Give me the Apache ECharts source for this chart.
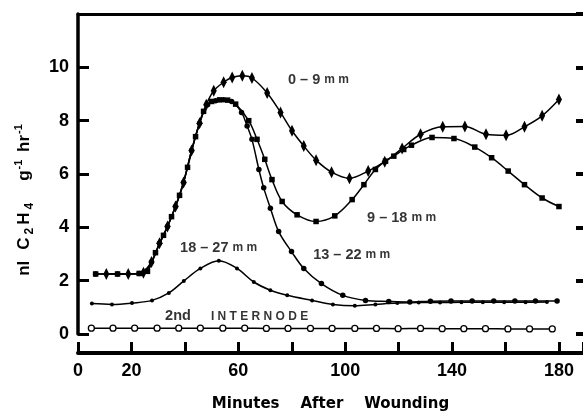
<!DOCTYPE html>
<html><head><meta charset="utf-8">
<script src="https://cdn.jsdelivr.net/npm/echarts@6/dist/echarts.min.js"></script>
<style>html,body{margin:0;padding:0;background:#fff}#c{width:583px;height:413px}</style>
</head><body><div id="c"></div>
<script>
// ---- data (minutes after wounding, nl C2H4 g-1 hr-1) ----
const xTickLabels = ['0','20','60','100','140','180'];
const yTickLabels = ['0','2','4','6','8','10'];

const s0_9_t = [10.6,18.8,24.5,27.5,30.5,33.5,36.5,39.5,42.5,45.5,48,50.8,54.5,57.7,61.5,65.1,70.8,75.8,80.1,84.5,89.1,94.9,101.6,108.6,114.8,121.3,128.2,136.5,144.8,152.7,160.2,167.1,173.7,180];
const s0_9_v = [2.25,2.25,2.3,2.7,3.4,4.03,4.78,5.68,6.88,7.9,8.6,9.12,9.44,9.62,9.68,9.6,9.04,8.31,7.62,7.05,6.52,6.07,5.84,6.11,6.46,6.96,7.49,7.77,7.78,7.49,7.45,7.77,8.18,8.79];

const s9_18_t = [6.6,14.8,22.9,26,29,32,35,38,41,44,47,50,53,56,59,63.9,67,69.9,72.6,76.4,82,89.1,96.1,102.6,107,111.3,115.1,118.2,121.9,124.8,132.5,140.7,148.5,154.8,161,167.1,173.7,180];
const s9_18_v = [2.25,2.25,2.27,2.35,3.05,3.7,4.4,5.2,6.25,7.4,8.35,8.72,8.78,8.77,8.62,8.0,7.3,6.55,5.79,4.97,4.47,4.22,4.43,5.04,5.6,6.17,6.48,6.67,6.92,7.08,7.37,7.33,7.01,6.61,6.11,5.6,5.1,4.78];

const s13_22_t = [6.6,14.8,22.9,27.5,30.5,33.5,36.5,39.5,42.5,45.5,48.5,51.5,54.5,57.5,61.2,63.3,65.1,67.7,69.5,72,75.1,79.9,84.5,91.1,99.1,107.6,116.3,124.2,131.9,139.6,147.5,155.6,163.5,171.2,179.3];
const s13_22_v = [2.25,2.25,2.27,2.7,3.4,4.03,4.78,5.68,6.88,7.9,8.6,8.75,8.78,8.72,8.31,7.8,7.3,6.17,5.48,4.72,3.84,3.09,2.46,1.89,1.45,1.26,1.22,1.2,1.23,1.24,1.24,1.24,1.24,1.24,1.24];

const s18_27_t = [5.2,12.7,20.2,27.7,34,39.6,45.8,52.7,59.5,65.8,72,78.3,87.6,95.4,103.6,111.3,119.5,127.5,135.5,143.5,151.5,159.5,167.5,175.5];
const s18_27_v = [1.14,1.11,1.16,1.26,1.54,1.99,2.46,2.75,2.46,1.95,1.64,1.45,1.26,1.11,1.06,1.11,1.16,1.18,1.18,1.19,1.19,1.19,1.19,1.2];

const sInt_t = [5,13.1,21.2,29.6,37.7,45.8,54.2,62.4,70.5,78.6,87,95.1,103.6,111.7,119.8,128.2,136.3,144.4,152.5,160.9,169,177.5];
const sInt_v = [0.22,0.22,0.22,0.22,0.22,0.22,0.22,0.22,0.21,0.21,0.21,0.21,0.21,0.21,0.2,0.21,0.2,0.2,0.2,0.19,0.19,0.19];

const seriesNames = ['0-9 mm','9-18 mm','13-22 mm','18-27 mm','2nd INTERNODE'];

// ---- build ----
const zip = (t, v) => t.map((x, i) => [x, v[i]]);
const FONT = 'Liberation Sans';
const lineBase = (name, t, v, symbol, size, extra) => Object.assign({
  name, type: 'line', data: zip(t, v), smooth: 0.35, symbol, symbolSize: size,
  lineStyle: { color: '#000', width: 1.5 },
  itemStyle: { color: '#000', borderColor: '#000', borderWidth: 0 },
  z: 3, silent: true
}, extra || {});

const lbl = (name, x, y, text) => ({
  name: name + ' label', type: 'scatter', symbolSize: 0, data: [[x, y]], silent: true, z: 5,
  label: {
    show: true, position: 'right', distance: 0, formatter: text,
    rich: {
      d: { fontFamily: FONT, fontWeight: 'bold', fontSize: 14.5, color: '#000' },
      m: { fontFamily: FONT, fontWeight: 'bold', fontSize: 12, color: '#000', padding: [0, 0, 0, 4] },
      c: { fontFamily: FONT, fontWeight: 'bold', fontSize: 12, color: '#000', padding: [0, 0, 0, 20] }
    }
  }
});

const B = { fontFamily: FONT, fontWeight: 'bold', color: '#000' };
const chart = echarts.init(document.getElementById('c'), null, { renderer: 'canvas' });
chart.setOption({
  animation: false,
  backgroundColor: '#fff',
  grid: { left: 78, top: 14, right: 0, bottom: 79, containLabel: false, outerBoundsMode: 'none' },
  xAxis: [{
    type: 'value', position: 'bottom', offset: 19, min: 0, max: 189, interval: 20,
    axisLine: { show: true, onZero: false, lineStyle: { color: '#000', width: 4 } },
    axisTick: { show: true, inside: true, length: 11, lineStyle: { color: '#000', width: 3 } },
    axisLabel: { color: '#000', fontFamily: FONT, fontWeight: 'bold', fontSize: 18, margin: 9,
      formatter: v => xTickLabels.includes(String(v)) ? String(v) : '' },
    splitLine: { show: false },
    name: 'Minutes    After    Wounding', nameLocation: 'middle', nameGap: 44,
    nameTextStyle: { color: '#000', fontFamily: 'DejaVu Sans', fontWeight: 'bold', fontSize: 15 }
  }, {
    type: 'value', position: 'top', min: 0, max: 189,
    axisLine: { show: true, onZero: false, lineStyle: { color: '#000', width: 3 } },
    axisTick: { show: false }, axisLabel: { show: false }, splitLine: { show: false }
  }],
  yAxis: [{
    type: 'value', position: 'left', min: 0, max: 12, interval: 2,
    axisLine: { show: true, onZero: false, lineStyle: { color: '#000', width: 3.5 } },
    axisTick: { show: true, inside: true, length: 11, lineStyle: { color: '#000', width: 3 } },
    axisLabel: { color: '#000', fontFamily: FONT, fontWeight: 'bold', fontSize: 18, margin: 9,
      formatter: v => yTickLabels.includes(String(v)) ? String(v) : '' },
    splitLine: { show: false },
    name: '{a|nl}   {c|C}{sub|2}{c|H}{sub|4}      {a|g}{sup|-1}  {a|hr}{supe|-1}',
    nameLocation: 'middle', nameRotate: 90, nameGap: 42,
    nameTextStyle: {
      color: '#000',
      rich: {
        a: Object.assign({ fontSize: 17 }, B),
        c: Object.assign({ fontSize: 17, padding: [0, 1, 0, 1] }, B),
        sub: Object.assign({ fontSize: 12, padding: [11, 2, 0, 2] }, B),
        sup: Object.assign({ fontSize: 11, padding: [0, 1, 11, 1] }, B),
        supe: Object.assign({ fontSize: 11, padding: [0, 52, 11, 1] }, B)
      }
    }
  }, {
    type: 'value', position: 'right', min: 0, max: 12, interval: 2,
    axisLine: { show: false, onZero: false },
    axisTick: { show: true, inside: true, length: 7, lineStyle: { color: '#000', width: 4 } },
    axisLabel: { show: false }, splitLine: { show: false }
  }],
  series: [
    lineBase(seriesNames[4], sInt_t, sInt_v, 'circle', 6,
      { itemStyle: { color: '#fff', borderColor: '#000', borderWidth: 1.3 }, lineStyle: { color: '#000', width: 1.5 } }),
    lineBase(seriesNames[3], s18_27_t, s18_27_v, 'circle', 4),
    lineBase(seriesNames[2], s13_22_t, s13_22_v, 'circle', 5.5),
    lineBase(seriesNames[1], s9_18_t, s9_18_v, 'rect', 5.5),
    lineBase(seriesNames[0], s0_9_t, s0_9_v, 'path://M0,-10 L4,0 L0,10 L-4,0 Z', [6, 12]),
    lbl(seriesNames[0], 78.6, 9.52, '{d|0 – 9}{m|m m}'),
    lbl(seriesNames[1], 108.2, 4.35, '{d|9 – 18}{m|m m}'),
    lbl(seriesNames[2], 88, 2.96, '{d|13 – 22}{m|m m}'),
    lbl(seriesNames[3], 38.2, 3.24, '{d|18 – 27}{m|m m}'),
    lbl(seriesNames[4], 32.6, 0.66, '{d|2nd}{c|I N T E R N O D E}')
  ]
});
</script>
</body></html>
